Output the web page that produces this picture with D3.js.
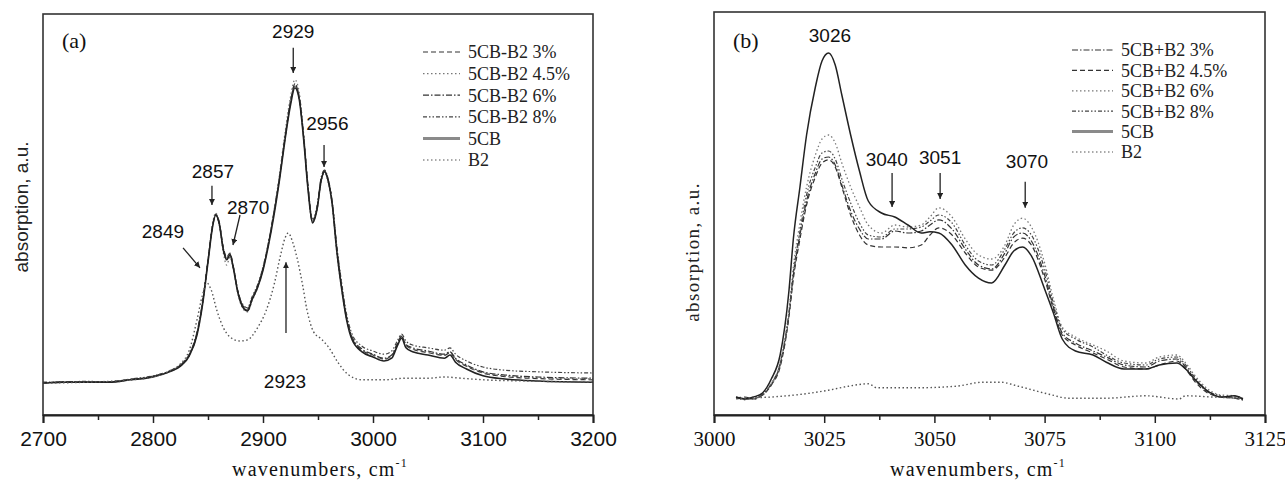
<!DOCTYPE html>
<html>
<head>
<meta charset="utf-8">
<script src="https://cdn.jsdelivr.net/npm/d3@7"></script>
<style>
body { margin:0; background:#fff; }
svg { display:block; }
</style>
</head>
<body>
<svg id="drawing_region"></svg>
<script>
// ---- panel (a) data : wavenumbers and absorption (a.u.)
const wnA = [2700, 2720, 2740, 2760, 2780, 2800, 2815, 2825, 2833, 2840, 2845, 2850, 2854, 2857, 2860, 2864, 2867, 2870, 2873, 2877,
             2882, 2886, 2890, 2895, 2900, 2905, 2910, 2915, 2920, 2925, 2929, 2933, 2937, 2941, 2945, 2949, 2953, 2956, 2959, 2963,
             2967, 2971, 2976, 2981, 2990, 3000, 3010, 3017, 3022, 3026, 3030, 3036, 3050, 3065, 3070, 3075, 3085, 3100, 3120, 3150, 3200];
const cb5A = [8.0, 8.2, 8.2, 8.2, 8.8, 9.5, 10.8, 12.2, 14.8, 20.0, 27.5, 38.2, 46.8, 50.0, 48.2, 41.2, 38.8, 40.0, 36.8, 30.8,
              26.8, 26.0, 28.8, 31.8, 36.2, 42.5, 50.0, 58.8, 68.8, 77.5, 81.8, 78.8, 68.8, 56.2, 48.0, 51.2, 58.8, 60.8, 58.8, 52.5,
              41.2, 32.5, 23.8, 18.8, 15.8, 14.5, 13.5, 14.2, 17.2, 19.2, 16.8, 15.8, 15.0, 14.2, 15.0, 13.2, 11.5, 9.8, 9.0, 8.5, 8.2];
const a3 = [8.0, 8.3, 8.2, 8.3, 8.9, 9.6, 10.9, 12.4, 15.0, 20.5, 28.0, 38.8, 47.2, 50.2, 48.5, 41.8, 39.5, 40.5, 37.2, 31.2,
            27.2, 26.5, 29.2, 32.2, 36.8, 43.0, 50.8, 59.5, 69.5, 78.5, 82.5, 79.5, 69.5, 56.8, 48.5, 51.5, 59.0, 61.0, 59.0, 52.8,
            41.8, 33.0, 24.2, 19.2, 16.2, 15.0, 14.0, 14.8, 17.5, 19.8, 17.5, 16.5, 15.6, 14.9, 15.6, 13.9, 12.2, 10.5, 9.6, 9.1, 8.8];
const a45 = [8.1, 8.2, 8.3, 8.2, 8.8, 9.6, 10.8, 12.3, 14.9, 20.2, 27.8, 38.5, 47.5, 50.5, 48.0, 40.5, 37.5, 39.5, 36.5, 30.5,
             26.5, 25.8, 28.5, 31.8, 36.5, 43.0, 51.0, 60.0, 70.5, 79.5, 83.8, 80.5, 70.0, 57.0, 48.2, 51.0, 58.5, 60.5, 58.5, 52.2,
             41.0, 32.5, 24.0, 19.0, 16.2, 15.0, 14.0, 14.8, 17.8, 19.8, 17.5, 16.5, 15.8, 15.0, 15.8, 14.0, 12.3, 10.6, 9.8, 9.3, 9.0];
const a6 = [8.0, 8.2, 8.3, 8.3, 8.9, 9.7, 11.0, 12.5, 15.2, 20.8, 28.2, 38.8, 47.0, 49.8, 48.0, 41.5, 39.2, 40.2, 37.0, 31.0,
            27.0, 26.2, 29.0, 32.0, 36.5, 42.8, 50.5, 59.2, 69.2, 78.2, 82.8, 79.2, 69.2, 56.5, 48.2, 51.8, 59.5, 61.2, 59.2, 53.0,
            42.0, 33.2, 24.5, 19.5, 16.5, 15.2, 14.2, 15.0, 17.8, 19.6, 17.6, 16.8, 16.0, 15.2, 15.8, 14.2, 12.5, 10.8, 10.0, 9.5, 9.2];
const a8 = [8.2, 8.3, 8.4, 8.3, 9.0, 9.8, 11.0, 12.6, 15.2, 20.5, 28.0, 38.5, 47.0, 50.0, 48.3, 41.5, 39.0, 40.2, 37.0, 31.2,
            27.5, 26.8, 29.5, 32.5, 37.0, 43.2, 50.8, 59.5, 69.2, 78.0, 82.2, 79.0, 69.5, 57.0, 49.0, 52.0, 59.2, 61.0, 59.2, 53.2,
            42.5, 34.0, 25.2, 20.2, 17.2, 16.0, 15.2, 16.0, 18.5, 20.2, 18.5, 17.5, 16.8, 16.2, 16.8, 15.2, 13.5, 12.0, 11.2, 10.8, 10.5];
const b2WnA = [2700, 2740, 2780, 2800, 2815, 2825, 2833, 2840, 2845, 2849, 2853, 2858, 2864, 2870, 2879, 2886, 2895, 2903, 2910, 2916,
               2920, 2923, 2927, 2931, 2936, 2940, 2946, 2953, 2960, 2968, 2977, 2990, 3010, 3030, 3050, 3065, 3080, 3100, 3140, 3200];
const b2A = [8.0, 8.2, 8.8, 9.5, 11.0, 12.8, 16.2, 23.8, 30.0, 33.0, 31.2, 26.2, 21.8, 19.5, 18.5, 18.8, 21.8, 26.2, 32.5, 40.0,
             44.2, 45.5, 43.2, 39.2, 32.5, 26.2, 20.8, 19.0, 16.8, 13.2, 10.2, 8.8, 8.8, 9.2, 9.2, 9.5, 9.2, 8.8, 8.5, 8.2];
const ticksA = [2700, 2800, 2900, 3000, 3100, 3200];
const minorA = [2750, 2850, 2950, 3050, 3150];
const namesA = ['5CB-B2 3%', '5CB-B2 4.5%', '5CB-B2 6%', '5CB-B2 8%', '5CB', 'B2'];

// ---- panel (b) data
const wnB = [3005, 3007, 3009, 3011, 3013, 3015, 3017, 3018, 3019.5, 3021, 3023, 3024.5, 3026, 3027.5, 3029, 3031, 3033, 3035, 3038, 3041,
             3044, 3047, 3049, 3051, 3054, 3057, 3060, 3063, 3066, 3068, 3070, 3072, 3075, 3077, 3079, 3082, 3086, 3089, 3093, 3098,
             3101, 3105, 3107, 3109, 3112, 3115, 3118, 3120];
const cb5B = [4.5, 4.0, 4.5, 5.5, 9.0, 15.0, 31.0, 44.0, 57.0, 70.0, 82.0, 88.5, 90.5, 87.5, 80.0, 70.0, 61.0, 53.5, 50.5, 49.5,
              47.5, 45.5, 45.8, 45.5, 42.5, 37.5, 34.2, 33.0, 37.5, 41.0, 42.0, 39.8, 31.5, 25.5, 19.0, 16.0, 15.0, 13.2, 11.5, 11.5,
              12.5, 13.0, 11.5, 9.0, 6.0, 4.5, 4.8, 4.0];
const b3 = [4.5, 4.0, 4.2, 5.2, 7.8, 12.8, 25.5, 35.0, 45.0, 53.5, 60.5, 64.0, 64.5, 62.5, 57.5, 51.0, 46.5, 44.0, 44.0, 46.0,
            45.5, 46.0, 47.5, 48.8, 46.5, 41.5, 37.5, 36.5, 40.5, 44.5, 45.5, 43.5, 35.0, 27.0, 20.5, 18.0, 16.0, 14.5, 12.5, 12.0,
            13.5, 14.0, 12.0, 9.0, 5.8, 4.5, 4.5, 4.0];
const b45 = [4.2, 4.5, 4.0, 5.0, 7.5, 12.0, 24.5, 34.0, 44.0, 52.5, 59.5, 63.0, 63.8, 62.0, 57.0, 50.0, 45.0, 42.5, 42.0, 42.0,
             41.8, 42.5, 45.0, 46.8, 45.0, 40.5, 37.0, 36.2, 39.5, 43.0, 44.2, 42.5, 34.0, 26.5, 20.0, 17.5, 15.5, 14.0, 12.0, 11.5,
             12.5, 13.5, 11.5, 8.5, 5.5, 4.5, 4.2, 3.8];
const b6 = [4.2, 3.8, 4.5, 5.0, 8.0, 13.0, 26.0, 37.0, 48.0, 57.0, 65.0, 69.0, 70.0, 68.0, 63.0, 57.0, 52.0, 47.5, 45.5, 47.5,
            47.0, 47.5, 49.5, 51.8, 49.5, 44.0, 40.0, 39.0, 42.5, 47.5, 49.2, 47.0, 38.0, 29.0, 22.0, 19.5, 17.5, 16.0, 13.5, 13.0,
            14.5, 15.0, 13.0, 10.0, 6.5, 5.0, 4.8, 4.2];
const b8 = [4.0, 4.2, 4.0, 5.0, 7.5, 12.5, 25.0, 35.5, 46.0, 55.0, 62.0, 65.5, 66.0, 64.0, 59.0, 53.0, 48.0, 45.0, 44.5, 46.5,
            46.5, 47.0, 48.5, 50.0, 48.0, 42.5, 38.5, 37.5, 41.5, 45.5, 46.8, 45.0, 36.5, 28.0, 21.5, 19.0, 17.0, 15.0, 13.0, 12.5,
            14.0, 14.5, 12.5, 9.5, 6.0, 4.8, 4.2, 3.8];
const b2WnB = [3006, 3013, 3020, 3026, 3030.5, 3035, 3037, 3046, 3055, 3061, 3065, 3069, 3076, 3080.5, 3089, 3098, 3105.5, 3107, 3113, 3120];
const b2B = [4.2, 4.5, 5.2, 6.2, 7.2, 7.8, 6.8, 6.8, 7.2, 8.2, 8.2, 7.2, 5.2, 4.2, 4.2, 4.8, 4.0, 4.8, 4.5, 4.2];
const ticksB = [3000, 3025, 3050, 3075, 3100, 3125];
const minorB = [3012.5, 3037.5, 3062.5, 3087.5, 3112.5];
const namesB = ['5CB+B2 3%', '5CB+B2 4.5%', '5CB+B2 6%', '5CB+B2 8%', '5CB', 'B2'];

// line styles
const DASH = '5,3', DOT = '1.5,2.5', DASHDOT = '6,2,1.5,2', DASHDOTDOT = '4,2,1.5,2,1.5,2';

const svg = d3.select('#drawing_region').attr('width', 1285).attr('height', 484);
const SANS = '"Liberation Sans", Arial, sans-serif';
const SERIF = '"Liberation Serif", "Times New Roman", serif';

svg.append('defs').append('marker')
    .attr('id', 'arrow')
    .attr('viewBox', '0 0 10 10')
    .attr('refX', 10).attr('refY', 5)
    .attr('markerWidth', 6).attr('markerHeight', 6)
    .attr('markerUnits', 'userSpaceOnUse')
    .attr('orient', 'auto')
  .append('path')
    .attr('d', 'M0,0 L10,5 L0,10 z')
    .attr('fill', '#222');

class Spectrum {
    constructor(config, series) {
        this.config = config;
        this.series = series;
        this.init();
    }

    init() {
        let self = this;
        const c = self.config;
        self.chart = svg.append('g')
            .attr('transform', `translate(${c.left}, ${c.top})`);
        self.inner_width = c.width;
        self.inner_height = c.height;

        self.xscale = d3.scaleLinear().domain(c.xdomain).range([0, self.inner_width]);
        // 100 a.u. = 400 px, baseline at axis
        self.yscale = d3.scaleLinear().domain([0, 100]).range([self.inner_height, self.inner_height - 400]);

        self.line = d3.line()
            .x(d => self.xscale(d[0]))
            .y(d => self.yscale(d[1]))
            .curve(d3.curveMonotoneX);
    }

    render() {
        let self = this;
        const c = self.config;

        // curves
        self.series.forEach(s => {
            const pts = s.x.map((x, i) => [x, s.y[i]]);
            self.chart.append('path')
                .attr('d', self.line(pts))
                .attr('fill', 'none')
                .attr('stroke', s.color)
                .attr('stroke-width', s.width)
                .attr('stroke-dasharray', s.dash);
        });

        // frame
        self.chart.append('rect')
            .attr('width', self.inner_width).attr('height', self.inner_height)
            .attr('fill', 'none').attr('stroke', '#333').attr('stroke-width', 1.6);

        // x axis
        const xaxis = d3.axisBottom(self.xscale)
            .tickValues(c.ticks).tickSize(8).tickPadding(8)
            .tickFormat(d3.format('d'));
        const gx = self.chart.append('g')
            .attr('transform', `translate(0, ${self.inner_height})`)
            .call(xaxis);
        gx.select('.domain').attr('stroke', '#222').attr('stroke-width', 2);
        gx.selectAll('.tick line').attr('stroke', '#222').attr('stroke-width', 1.5);
        gx.selectAll('.tick text')
            .attr('font-family', c.tickFont).attr('font-size', c.tickSize).attr('fill', '#111');

        const gm = self.chart.append('g')
            .attr('transform', `translate(0, ${self.inner_height})`)
            .call(d3.axisBottom(self.xscale).tickValues(c.minor).tickSize(5).tickFormat(''));
        gm.select('.domain').remove();
        gm.selectAll('.tick line').attr('stroke', '#222').attr('stroke-width', 1.5);

        // axis titles
        const xt = svg.append('text')
            .attr('x', c.left + c.titleX).attr('y', 476)
            .attr('text-anchor', 'middle')
            .attr('font-family', SERIF).attr('font-size', 20)
            .attr('letter-spacing', 1.2).attr('fill', '#111')
            .text('wavenumbers, cm');
        xt.append('tspan').attr('font-size', 12).attr('dy', -9).text('-1');

        svg.append('text')
            .attr('transform', `translate(${c.ylabX}, ${c.ylabY}) rotate(-90)`)
            .attr('text-anchor', 'middle')
            .attr('font-family', c.ylabFont).attr('font-size', c.ylabSize)
            .attr('letter-spacing', c.ylabSpacing).attr('fill', '#222')
            .text('absorption, a.u.');

        // panel label
        self.chart.append('text')
            .attr('x', 19).attr('y', c.panelY)
            .attr('font-family', SERIF).attr('font-size', 22).attr('fill', '#111')
            .text(c.panel);

        // peak annotations
        c.notes.forEach(n => {
            self.chart.append('text')
                .attr('x', self.xscale(n.tx)).attr('y', self.yscale(n.ty))
                .attr('dy', '0.35em').attr('text-anchor', 'middle')
                .attr('font-family', SANS).attr('font-size', 19).attr('fill', '#111')
                .text(n.label);
            if (n.x1 !== undefined) {
                self.chart.append('line')
                    .attr('x1', self.xscale(n.x1)).attr('y1', self.yscale(n.y1))
                    .attr('x2', self.xscale(n.x2)).attr('y2', self.yscale(n.y2))
                    .attr('stroke', '#222').attr('stroke-width', 1.3)
                    .attr('marker-end', 'url(#arrow)');
            }
        });

        // legend
        const lg = svg.append('g').attr('transform', `translate(${c.legX}, ${c.legY})`);
        self.series.forEach((s, i) => {
            const y = i * c.legStep;
            lg.append('line')
                .attr('x1', 0).attr('x2', c.legLen).attr('y1', y).attr('y2', y)
                .attr('stroke', s.legColor || s.color)
                .attr('stroke-width', s.legWidth || 1.2)
                .attr('stroke-dasharray', s.dash);
            lg.append('text')
                .attr('x', c.legLen + 8).attr('y', y).attr('dy', '0.35em')
                .attr('font-family', SERIF).attr('font-size', 18).attr('fill', '#222')
                .text(s.name);
        });
    }
}

const panelA = new Spectrum({
    left: 43, top: 14, width: 550, height: 401,
    xdomain: [2700, 3200], ticks: ticksA, minor: minorA,
    tickFont: SANS, tickSize: 21, titleX: 277,
    ylabX: 28, ylabY: 207, ylabFont: SANS, ylabSize: 19, ylabSpacing: 0,
    panel: '(a)', panelY: 34,
    legX: 423, legY: 52, legStep: 21.6, legLen: 37,
    notes: [
        { label: '2929', tx: 2927.5, ty: 96, x1: 2927.5, y1: 91.8, x2: 2927.5, y2: 85.5 },
        { label: '2956', tx: 2958.5, ty: 73, x1: 2955.5, y1: 67.5, x2: 2955.5, y2: 62 },
        { label: '2857', tx: 2854.5, ty: 61, x1: 2853.6, y1: 57.3, x2: 2853.6, y2: 52.5 },
        { label: '2870', tx: 2886.5, ty: 52, x1: 2879.1, y1: 50, x2: 2872.7, y2: 42.5 },
        { label: '2849', tx: 2809, ty: 45.8, x1: 2827.3, y1: 41.8, x2: 2842.7, y2: 36.8 },
        { label: '2923', tx: 2920, ty: 8.3, x1: 2920.9, y1: 20.5, x2: 2920.9, y2: 38.2 }
    ]
}, [
    { name: namesA[0], x: wnA, y: a3, dash: DASH, color: '#333', width: 1.2 },
    { name: namesA[1], x: wnA, y: a45, dash: DOT, color: '#777', width: 1.3 },
    { name: namesA[2], x: wnA, y: a6, dash: DASHDOT, color: '#333', width: 1.2 },
    { name: namesA[3], x: wnA, y: a8, dash: DASHDOTDOT, color: '#444', width: 1.2 },
    { name: namesA[4], x: wnA, y: cb5A, dash: null, color: '#222', width: 1.6, legColor: '#8a8a8a', legWidth: 3 },
    { name: namesA[5], x: b2WnA, y: b2A, dash: DOT, color: '#555', width: 1.4 }
]);
panelA.render();

const panelB = new Spectrum({
    left: 714, top: 12, width: 551, height: 403,
    xdomain: [3000, 3125], ticks: ticksB, minor: minorB,
    tickFont: SERIF, tickSize: 21, titleX: 264,
    ylabX: 699, ylabY: 252, ylabFont: SERIF, ylabSize: 19, ylabSpacing: 1.4,
    panel: '(b)', panelY: 36,
    legX: 1072, legY: 50, legStep: 20.4, legLen: 41,
    notes: [
        { label: '3026', tx: 3026.3, ty: 95 },
        { label: '3040', tx: 3039.2, ty: 64, x1: 3040.4, y1: 60.5, x2: 3040.4, y2: 52 },
        { label: '3051', tx: 3051.3, ty: 64.5, x1: 3051.3, y1: 60.5, x2: 3051.3, y2: 54 },
        { label: '3070', tx: 3071, ty: 63.3, x1: 3070.6, y1: 58.3, x2: 3070.6, y2: 51.8 }
    ]
}, [
    { name: namesB[0], x: wnB, y: b3, dash: DASHDOT, color: '#333', width: 1.2 },
    { name: namesB[1], x: wnB, y: b45, dash: DASH, color: '#333', width: 1.2 },
    { name: namesB[2], x: wnB, y: b6, dash: DOT, color: '#777', width: 1.3 },
    { name: namesB[3], x: wnB, y: b8, dash: DASHDOTDOT, color: '#444', width: 1.2 },
    { name: namesB[4], x: wnB, y: cb5B, dash: null, color: '#222', width: 1.5, legColor: '#8a8a8a', legWidth: 3 },
    { name: namesB[5], x: b2WnB, y: b2B, dash: DOT, color: '#555', width: 1.4 }
]);
panelB.render();
</script>
</body>
</html>
